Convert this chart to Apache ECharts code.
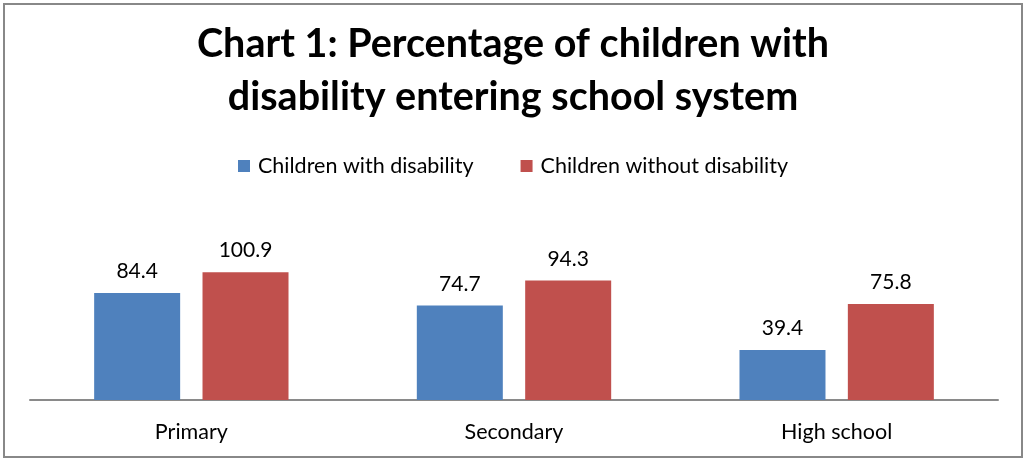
<!DOCTYPE html>
<html>
<head>
<meta charset="utf-8">
<script src="https://cdn.jsdelivr.net/npm/echarts@6/dist/echarts.min.js"></script>
<style>
html,body{margin:0;padding:0;background:#fff;}
#chart{width:1026px;height:460px;}
</style>
</head>
<body>
<div id="chart"></div>
<script>
const titleText = 'Chart 1: Percentage of children with\ndisability entering school system';
const categories = ['Primary', 'Secondary', 'High school'];
const seriesNames = ['Children with disability', 'Children without disability'];
const withDisability = [84.4, 74.7, 39.4];
const withoutDisability = [100.9, 94.3, 75.8];
const colors = ['#4F81BD', '#C0504D'];

const FONT = 'Lato';
const chart = echarts.init(document.getElementById('chart'), null, {renderer: 'canvas'});
const labelStyle = {show: true, position: 'top', distance: 11, color: '#000', fontFamily: FONT, fontSize: 21};
chart.setOption({
  animation: false,
  backgroundColor: '#fff',
  graphic: [{
    type: 'rect',
    shape: {x: 4, y: 4, width: 1018, height: 453},
    style: {fill: 'none', stroke: '#888', lineWidth: 2},
    silent: true
  }],
  title: {
    text: titleText,
    left: 'center',
    top: 18,
    padding: 0,
    textStyle: {fontFamily: FONT, fontWeight: 'bold', fontSize: 39.5, lineHeight: 53, color: '#000'}
  },
  legend: {
    data: seriesNames,
    top: 150,
    left: 'center',
    itemWidth: 12,
    itemHeight: 12,
    itemGap: 47,
    icon: 'rect',
    textStyle: {fontFamily: FONT, fontSize: 21.5, color: '#000', padding: [0, 0, 0, 3]}
  },
  grid: {left: 30, right: 28, top: 248, bottom: 60, containLabel: false},
  xAxis: {
    type: 'category',
    data: categories,
    axisLine: {show: true, lineStyle: {color: '#8a8a8a', width: 2}},
    axisTick: {show: false},
    axisLabel: {color: '#000', fontFamily: FONT, fontSize: 21.5, margin: 21}
  },
  yAxis: {
    type: 'value',
    min: 0,
    max: 120,
    interval: 20,
    show: false,
    splitLine: {show: false}
  },
  series: [
    {name: seriesNames[0], type: 'bar', data: withDisability, barWidth: 86, barGap: '26%',
     itemStyle: {color: colors[0]}, label: labelStyle},
    {name: seriesNames[1], type: 'bar', data: withoutDisability, barWidth: 86, barGap: '26%',
     itemStyle: {color: colors[1]}, label: labelStyle}
  ]
});
</script>
</body>
</html>
